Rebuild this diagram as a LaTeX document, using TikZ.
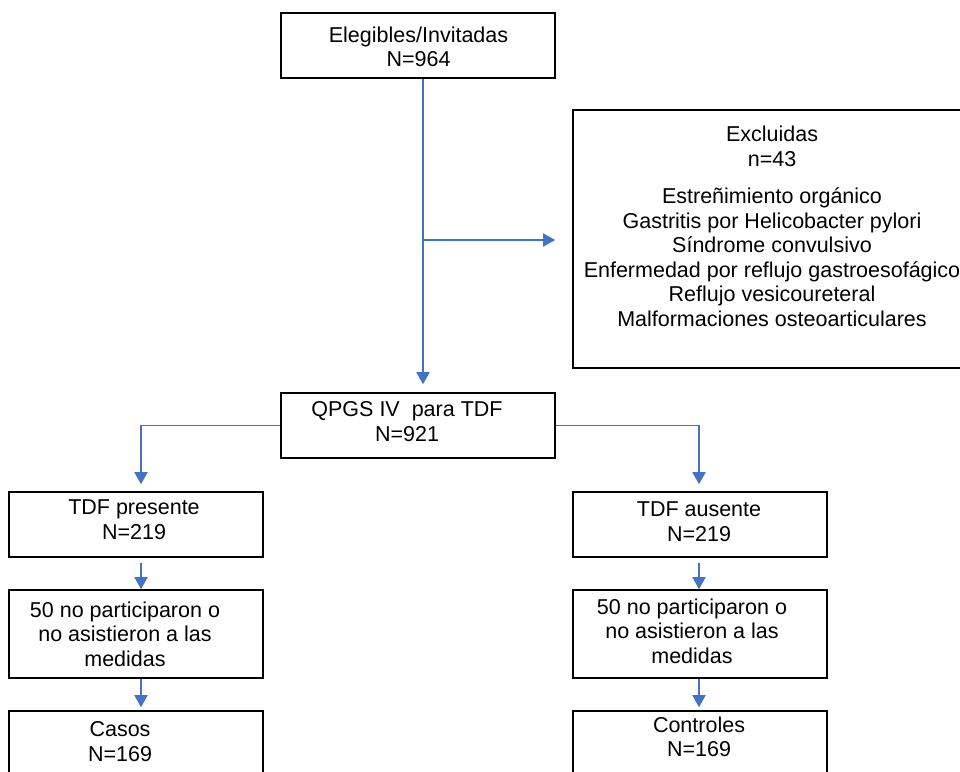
\documentclass[tikz,border=0pt]{standalone}
\usepackage{fontspec}
\setmainfont{Liberation Sans}
\usetikzlibrary{arrows.meta}
\definecolor{flowblue}{HTML}{4472C4}
\begin{document}
\begin{tikzpicture}[x=1pt,y=-1pt,
  box/.style={draw=black,line width=1.6pt,inner sep=0pt,minimum width=#1},
  box/.default=254pt,
  txt/.style={anchor=north,inner sep=0pt,align=center,font=\fontsize{21.5}{24.6}\selectfont},
  arr/.style={draw=flowblue,line width=1.9pt,-{Triangle[width=13pt,length=12pt]}}]
\useasboundingbox (0,0) rectangle (960,771);
% boxes
\node[box=274pt,minimum height=65pt] (top) at (418,45.5) {};
\node[box=402pt,minimum height=258pt] (excl) at (774,239) {};
\node[box=274pt,minimum height=65pt] (qpgs) at (418,425.5) {};
\node[box,minimum height=65pt] (L1) at (136,524.5) {};
\node[box,minimum height=88pt] (L2) at (136,634) {};
\node[box,minimum height=79pt] (L3) at (136,750.5) {};
\node[box,minimum height=65pt] (R1) at (700,524.5) {};
\node[box,minimum height=88pt] (R2) at (700,634) {};
\node[box,minimum height=79pt] (R3) at (700,750.5) {};
% texts
\node[txt] (ttop) at (418.5,26.5) {Elegibles/Invitadas\\N=964};
\node[txt] (texcl) at (772,126) {Excluidas\\n=43\\[12.5pt]Estreñimiento orgánico\\Gastritis por Helicobacter pylori\\Síndrome convulsivo\\Enfermedad por reflujo gastroesofágico\\Reflujo vesicoureteral\\Malformaciones osteoarticulares};
\node[txt] (tqpgs) at (407,401.5) {QPGS IV\ \ para TDF\\N=921};
\node[txt] (tL1) at (134,499.5) {TDF presente\\N=219};
\node[txt] (tL2) at (125,601.5) {50 no participaron o\\no asistieron a las\\medidas};
\node[txt] (tL3) at (120,721.5) {Casos\\N=169};
\node[txt] (tR1) at (699,501.5) {TDF ausente\\N=219};
\node[txt] (tR2) at (692,598.5) {50 no participaron o\\no asistieron a las\\medidas};
\node[txt] (tR3) at (699,716.5) {Controles\\N=169};
% connectors
\coordinate (j) at (423,240);
\draw[arr] ([xshift=5pt]top.south) -- ([xshift=5pt,yshift=8pt]qpgs.north);
\draw[arr] (j) -- ([xshift=-17pt]excl.west |- j);
\draw[arr] (qpgs.west) -| ([xshift=5pt,yshift=7pt]L1.north);
\draw[arr] (qpgs.east) -| ([xshift=-1pt,yshift=7pt]R1.north);
\draw[arr] ([xshift=5pt,yshift=-5pt]L1.south) -- ([xshift=5pt]L2.north);
\draw[arr] ([xshift=5pt]L2.south) -- ([xshift=5pt,yshift=3pt]L3.north);
\draw[arr] ([xshift=-1pt,yshift=-5pt]R1.south) -- ([xshift=-1pt]R2.north);
\draw[arr] ([xshift=-1pt]R2.south) -- ([xshift=-1pt,yshift=3pt]R3.north);
\end{tikzpicture}
\end{document}
